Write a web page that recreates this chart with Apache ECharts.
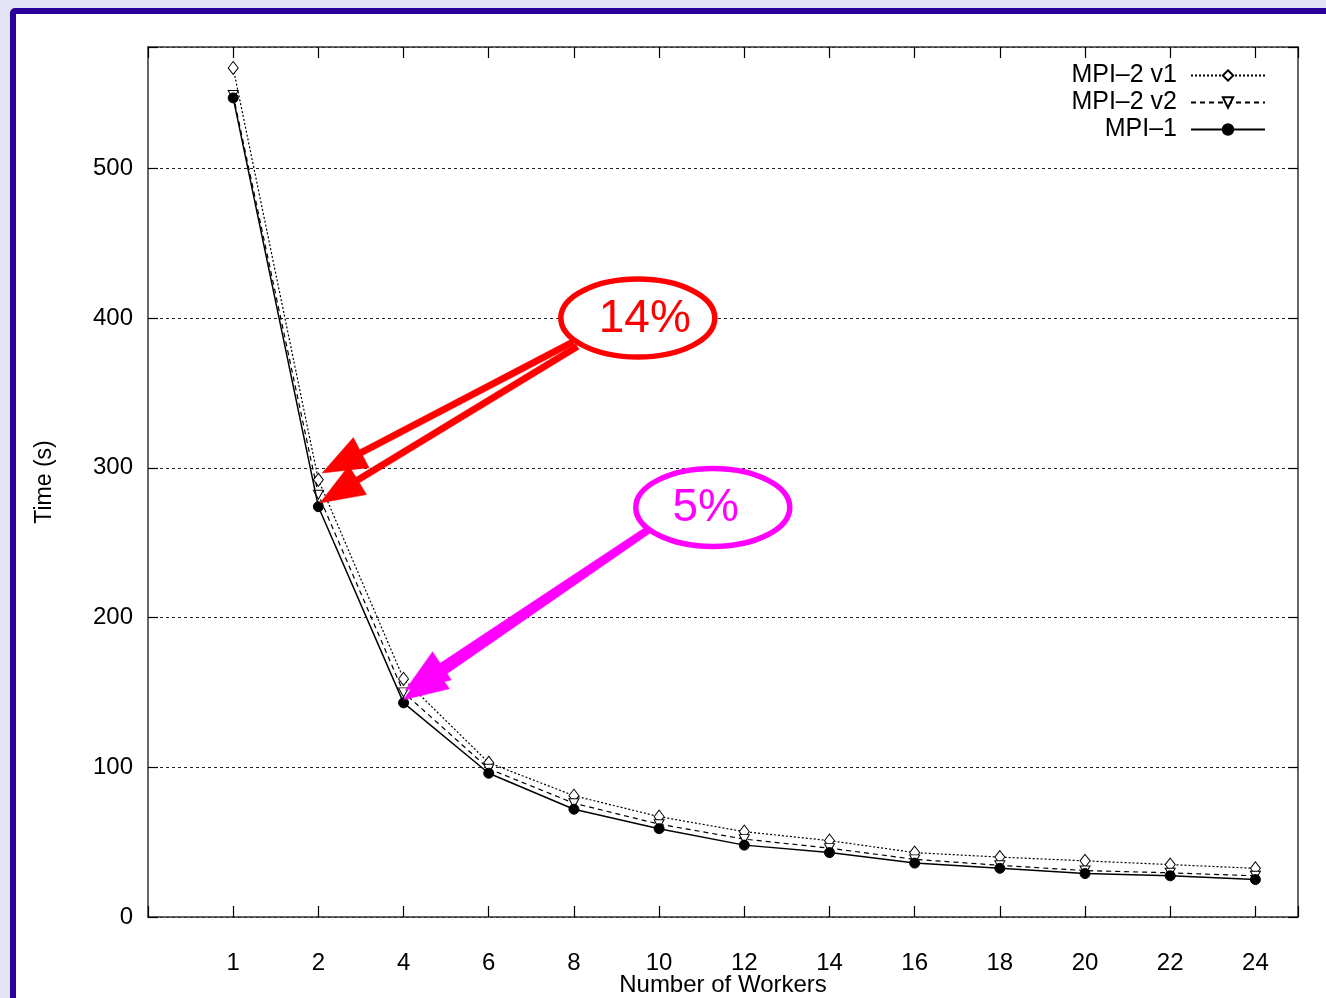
<!DOCTYPE html>
<html><head><meta charset="utf-8">
<script src="https://cdn.jsdelivr.net/npm/echarts@6/dist/echarts.min.js"></script>
<style>
html,body{margin:0;padding:0;background:#e4e4f8;width:1326px;height:998px;overflow:hidden}
#frame{position:absolute;left:10px;top:8px;width:1400px;height:1100px;box-sizing:border-box;border:6px solid #29009a;border-radius:5px;background:#fff}
#chart{position:absolute;left:0;top:0;width:1326px;height:998px}
</style></head><body><div id="frame"></div><div id="chart"></div>
<script>
// ---- data ----
const workers = [1, 2, 4, 6, 8, 10, 12, 14, 16, 18, 20, 22, 24];
const mpi2v1 = [567, 292, 159, 103, 81, 67, 57, 51, 43, 40, 37.5, 35, 32.5];
const mpi2v2 = [549, 282, 150, 99, 76, 62, 52, 46, 38.5, 34.5, 31, 29.5, 27.5];
const mpi1   = [547, 274, 143, 96, 72, 59, 48, 43, 36, 32.5, 29, 27.5, 25];
const seriesNames = ['MPI–2 v1', 'MPI–2 v2', 'MPI–1'];
const yTicks = [0, 100, 200, 300, 400, 500];
const xTitle = 'Number of Workers';
const yTitle = 'Time (s)';

// annotations (data coordinates: x = category index, y = seconds)
const annRed = { text: '14%', center: [5.75, 400], textShift: 7, arrows: [[[4.99, 384], [2.045, 296.5]], [[5.04, 381], [2.02, 276.5]]] };
const annMag = { text: '5%', center: [6.63, 273.5], textShift: -7, arrows: [[[5.86, 258.5], [3.02, 151.5]], [[5.92, 260], [3.0, 145]]] };

const FONT = '"Liberation Sans", Arial, Helvetica, sans-serif';
const chart = echarts.init(document.getElementById('chart'), null, { renderer: 'canvas' });

function pairs(arr) { return arr.map((v, i) => [i + 1, v]); }
function xLab(v) { const i = Math.round(v); return (Math.abs(v - i) < 1e-6 && i >= 1 && i <= workers.length) ? String(workers[i - 1]) : ''; }
function yLab(v) { return yTicks.indexOf(v) >= 0 ? String(v) : ''; }

const axisLineStyle = { color: '#333', width: 1.5 };
const tickStyle = { color: '#000', width: 1.2 };

const lineCommon = { type: 'line', xAxisIndex: 0, yAxisIndex: 0, showAllSymbol: true, animation: false };

const option = {
  animation: false,
  backgroundColor: 'transparent',
  textStyle: { fontFamily: FONT, color: '#000' },
  grid: { left: 148, top: 47, right: 28, bottom: 81, containLabel: false, outerBoundsMode: 'none' },
  xAxis: [
    { type: 'value', min: 0, max: 13.5, interval: 1, position: 'bottom',
      name: xTitle, nameLocation: 'middle', nameGap: 56, nameMoveOverlap: false,
      nameTextStyle: { fontSize: 24, fontFamily: FONT, color: '#000', verticalAlign: 'top' },
      axisLine: { show: true, onZero: false, lineStyle: axisLineStyle },
      axisTick: { show: true, inside: true, length: 11, lineStyle: tickStyle },
      axisLabel: { formatter: xLab, fontSize: 24, margin: 34, color: '#000', fontFamily: FONT, showMinLabel: true, showMaxLabel: true },
      splitLine: { show: false } },
    { type: 'value', min: 0, max: 13.5, interval: 1, position: 'top',
      axisLine: { show: true, onZero: false, lineStyle: axisLineStyle },
      axisTick: { show: true, inside: true, length: 11, lineStyle: tickStyle },
      axisLabel: { show: false }, splitLine: { show: false } }
  ],
  yAxis: [
    { type: 'value', min: 0, max: 581, interval: 100, position: 'left',
      name: yTitle, nameLocation: 'middle', nameGap: 92, nameRotate: 90, nameMoveOverlap: false,
      nameTextStyle: { fontSize: 23, fontFamily: FONT, color: '#000' },
      axisLine: { show: true, onZero: false, lineStyle: axisLineStyle },
      axisTick: { show: true, inside: true, length: 10, lineStyle: tickStyle },
      axisLabel: { formatter: yLab, fontSize: 24, margin: 15, color: '#000', fontFamily: FONT },
      splitLine: { show: true, lineStyle: { color: '#222', width: 1, type: [3, 3] } } },
    { type: 'value', min: 0, max: 581, interval: 100, position: 'right',
      axisLine: { show: true, onZero: false, lineStyle: axisLineStyle },
      axisTick: { show: true, inside: true, length: 10, lineStyle: tickStyle },
      axisLabel: { show: false }, splitLine: { show: false } }
  ],
  legend: seriesNames.map((n, i) => ({
    data: [n], right: 60, top: 63 + i * 27, orient: 'vertical', align: 'right',
    itemWidth: 74, itemHeight: 13, itemGap: 0, padding: 0, selectedMode: false,
    textStyle: { fontSize: 25, fontFamily: FONT, color: '#000', padding: [0, 9, 0, 0] }
  })),
  series: [
    Object.assign({}, lineCommon, { name: seriesNames[0], data: pairs(mpi2v1), z: 2,
      symbol: 'diamond', symbolSize: [10, 13],
      itemStyle: { color: '#fff', borderColor: '#000', borderWidth: 1 },
      lineStyle: { color: '#000', width: 1.2, type: [2, 2] } }),
    Object.assign({}, lineCommon, { name: seriesNames[1], data: pairs(mpi2v2), z: 3,
      symbol: 'path://M0,0 L10,0 L5,9 Z', symbolSize: [10, 9],
      itemStyle: { color: '#fff', borderColor: '#000', borderWidth: 1 },
      lineStyle: { color: '#000', width: 1.2, type: [5, 4] } }),
    Object.assign({}, lineCommon, { name: seriesNames[2], data: pairs(mpi1), z: 4,
      symbol: 'circle', symbolSize: 10,
      itemStyle: { color: '#000', borderColor: '#000', borderWidth: 1 },
      lineStyle: { color: '#000', width: 1.5, type: 'solid' } })
  ]
};
chart.setOption(option);

function arrowPoly(tail, tip, w, L, H) {
  const dx = tip[0] - tail[0], dy = tip[1] - tail[1];
  const len = Math.sqrt(dx * dx + dy * dy);
  const ux = dx / len, uy = dy / len, nx = -uy, ny = ux;
  const bx = tip[0] - ux * L, by = tip[1] - uy * L;
  return [
    [tail[0] + nx * w / 2, tail[1] + ny * w / 2],
    [bx + nx * w / 2, by + ny * w / 2],
    [bx + nx * H / 2, by + ny * H / 2],
    [tip[0], tip[1]],
    [bx - nx * H / 2, by - ny * H / 2],
    [bx - nx * w / 2, by - ny * w / 2],
    [tail[0] - nx * w / 2, tail[1] - ny * w / 2]
  ];
}

function annGraphics(ann, color) {
  const px = p => chart.convertToPixel({ gridIndex: 0 }, p);
  const c = px(ann.center);
  const els = [];
  ann.arrows.forEach(a => {
    els.push({ type: 'polygon', z: 100, shape: { points: arrowPoly(px(a[0]), px(a[1]), 6.5, 44, 34) }, style: { fill: color, stroke: color, lineWidth: 0.5 } });
  });
  els.push({ type: 'ellipse', z: 101, shape: { cx: c[0], cy: c[1], rx: 77, ry: 39 }, style: { fill: '#fff', stroke: color, lineWidth: 5.5 } });
  els.push({ type: 'text', z: 102, x: c[0] + ann.textShift, y: c[1] + 1, style: { text: ann.text, fill: color, font: '46px ' + FONT, textAlign: 'center', textVerticalAlign: 'middle' } });
  return els;
}

chart.setOption({ graphic: { elements: annGraphics(annRed, '#ff0000').concat(annGraphics(annMag, '#ff00ff')) } });
</script></body></html>
